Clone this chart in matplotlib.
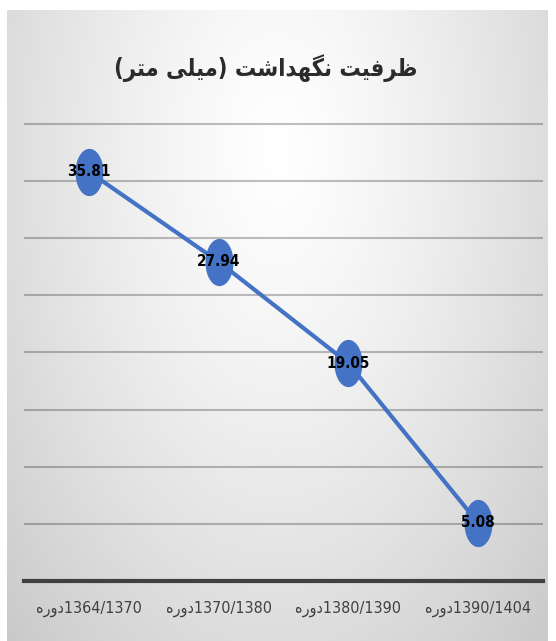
import numpy as np
import matplotlib
matplotlib.use('Agg')
import matplotlib.pyplot as plt
from matplotlib.path import Path

# --- data
periods = ['1364/1370دوره', '1370/1380دوره', '1380/1390دوره', '1390/1404دوره']
values = [35.81, 27.94, 19.05, 5.08]
title = 'ظرفیت نگهداشت (میلی متر)'
grid_ticks = [5, 10, 15, 20, 25, 30, 35, 40]

# --- tiny Persian shaper (matplotlib has no complex text layout)
FORMS = {  # isolated, final, initial, medial
    'ا': ('\uFE8D', '\uFE8E', None, None),
    'د': ('\uFEA9', '\uFEAA', None, None),
    'ر': ('\uFEAD', '\uFEAE', None, None),
    'و': ('\uFEED', '\uFEEE', None, None),
    'ت': ('\uFE95', '\uFE96', '\uFE97', '\uFE98'),
    'ش': ('\uFEB5', '\uFEB6', '\uFEB7', '\uFEB8'),
    'ظ': ('\uFEC5', '\uFEC6', '\uFEC7', '\uFEC8'),
    'ف': ('\uFED1', '\uFED2', '\uFED3', '\uFED4'),
    'ل': ('\uFEDD', '\uFEDE', '\uFEDF', '\uFEE0'),
    'م': ('\uFEE1', '\uFEE2', '\uFEE3', '\uFEE4'),
    'ن': ('\uFEE5', '\uFEE6', '\uFEE7', '\uFEE8'),
    'ه': ('\uFEE9', '\uFEEA', '\uFEEB', '\uFEEC'),
    'ی': ('\uFBFC', '\uFBFD', '\uFBFE', '\uFBFF'),
    'گ': ('\uFB92', '\uFB93', '\uFB94', '\uFB95'),
}


def rtl(text):
    shaped = []
    for i, ch in enumerate(text):
        if ch not in FORMS:
            shaped.append(ch)
            continue
        prev = text[i - 1] if i > 0 else ''
        nxt = text[i + 1] if i + 1 < len(text) else ''
        iso, fin, ini, med = FORMS[ch]
        jp = prev in FORMS and FORMS[prev][2] is not None
        jn = nxt in FORMS and ini is not None
        shaped.append(med if jp and jn else fin if jp else ini if jn else iso)
    # visual order: reverse, mirror brackets, keep number runs left-to-right
    chars = [{'(': ')', ')': '('}.get(c, c) for c in reversed(shaped)]
    out, run = [], []
    for c in chars:
        if c.isdigit() or (c in './' and run):
            run.append(c)
        else:
            out.extend(reversed(run))
            run = []
            out.append(c)
    out.extend(reversed(run))
    return ''.join(out)


W, H = 556, 641
fig = plt.figure(figsize=(W / 100, H / 100), dpi=100)
fig.patch.set_facecolor('white')

# --- radial gradient background of the chart area
bg = fig.add_axes([7 / W, 0, (548 - 7) / W, (H - 10) / H])
u, v = np.meshgrid(np.linspace(0, 1, 300), np.linspace(0, 1, 300))
d = np.sqrt(((u - 0.5) / 0.55) ** 2 + ((v - 0.22) / 0.85) ** 2)
shade = 1 - 0.15 * d ** 1.3
bg.imshow(np.dstack([shade] * 3), extent=[0, 1, 1, 0], aspect='auto')
bg.axis('off')

# --- plot area
ymax = 40.5
px_per_unit = 11.43
top_px = 581 - ymax * px_per_unit
ax = fig.add_axes([24 / W, (H - 581) / H, (543 - 24) / W, (581 - top_px) / H])
ax.set_facecolor('none')
x = np.arange(len(values))
ax.set_xlim(-0.5, len(values) - 0.5)
ax.set_ylim(0, ymax)

ax.set_yticks(grid_ticks)
ax.yaxis.grid(True, color='black', alpha=0.25, linewidth=1.5)
ax.set_axisbelow(True)
ax.tick_params(axis='y', left=False, labelleft=False)

for s in ['top', 'right', 'left']:
    ax.spines[s].set_visible(False)
ax.spines['bottom'].set_color('#404040')
ax.spines['bottom'].set_linewidth(3)

ax.set_xticks(x)
ax.set_xticklabels([rtl(p) for p in periods], fontsize=11.5, color='#404040',
                   family='DejaVu Sans', fontstretch='condensed')
ax.tick_params(axis='x', length=0, pad=14)

# tall ellipse markers like the reference
t = np.linspace(0, 2 * np.pi, 80)
ellipse = Path(np.column_stack([0.58 * np.cos(t), np.sin(t)]), closed=True)
ax.plot(x, values, color='#4472C4', linewidth=3, marker=ellipse,
        markersize=33, markerfacecolor='#4472C4', markeredgecolor='#4472C4',
        clip_on=False, zorder=3)

for xi, val in zip(x, values):
    ax.text(xi, val, f'{val:.2f}', ha='center', va='center', fontsize=11,
            fontweight='bold', color='black', family='DejaVu Sans',
            fontstretch='condensed', zorder=4)

fig.text(266 / W, 1 - 68 / H, rtl(title), ha='center', va='center',
         fontsize=17, fontweight='bold', color='#2b2b2b', family='DejaVu Sans',
         fontstretch='condensed')

fig.savefig('out.png', dpi=100)
